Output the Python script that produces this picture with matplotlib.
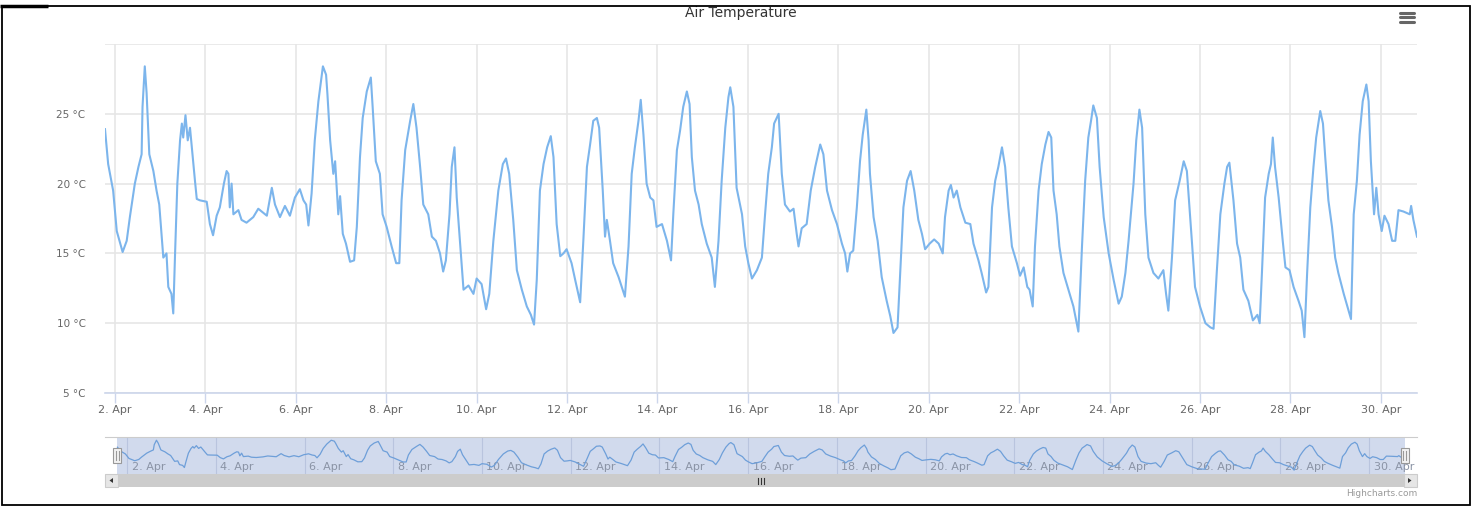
import matplotlib
matplotlib.use('Agg')
import matplotlib.pyplot as plt
from matplotlib.patches import Rectangle, Polygon

plt.rcParams['font.family'] = ['DejaVu Sans']

# Air temperature, April (day of month as decimal)
day = [1.78, 1.85, 1.96, 2.04, 2.17, 2.26, 2.33, 2.44, 2.52, 2.59,
       2.61, 2.66, 2.70, 2.76, 2.85, 2.92, 2.98, 3.03, 3.07, 3.14,
       3.18, 3.25, 3.29, 3.33, 3.38, 3.44, 3.48, 3.51, 3.56, 3.61,
       3.66, 3.70, 3.77, 3.81, 3.88, 4.03, 4.10, 4.17, 4.25, 4.32,
       4.41, 4.47, 4.51, 4.54, 4.58, 4.62, 4.73, 4.80, 4.91, 5.06,
       5.17, 5.36, 5.47, 5.54, 5.65, 5.76, 5.87, 5.98, 6.09, 6.17,
       6.23, 6.28, 6.35, 6.42, 6.50, 6.60, 6.67, 6.70, 6.76, 6.83,
       6.87, 6.94,
       6.98, 7.04, 7.11, 7.20, 7.29, 7.35, 7.42, 7.48, 7.57, 7.66,
       7.70, 7.77, 7.86, 7.92, 8.01, 8.12, 8.22, 8.29, 8.34, 8.42,
       8.53, 8.60, 8.67, 8.75, 8.82, 8.93, 9.01, 9.10, 9.19, 9.26,
       9.32, 9.40, 9.45, 9.51, 9.56, 9.63, 9.71, 9.82, 9.93, 10.00,
       10.11, 10.21, 10.28, 10.37, 10.48, 10.58, 10.65, 10.72, 10.81, 10.89,
       11.00, 11.11, 11.20, 11.27, 11.33, 11.40, 11.48, 11.56, 11.64, 11.70,
       11.77, 11.85, 11.92, 11.99, 12.10, 12.18, 12.29, 12.36, 12.44, 12.51,
       12.58, 12.66, 12.71, 12.79, 12.84, 12.88, 12.95, 13.02, 13.14, 13.21,
       13.28, 13.36, 13.43, 13.50, 13.58, 13.63, 13.69, 13.76, 13.84, 13.91,
       13.98, 14.10, 14.21, 14.30, 14.35, 14.43, 14.50, 14.57, 14.65, 14.71,
       14.76, 14.83, 14.91, 14.98, 15.09, 15.20, 15.27, 15.35, 15.42, 15.50,
       15.57, 15.61, 15.68, 15.75, 15.87, 15.94, 16.01, 16.09, 16.20, 16.31,
       16.38, 16.45, 16.53, 16.58, 16.68, 16.75, 16.82, 16.93, 17.01, 17.08,
       17.12, 17.19, 17.30, 17.39, 17.49, 17.60, 17.67, 17.75, 17.86, 17.97,
       18.08, 18.15, 18.20, 18.26, 18.33, 18.41, 18.48, 18.54, 18.62, 18.67,
       18.70, 18.78, 18.87, 18.96, 19.07, 19.15, 19.22, 19.31, 19.37, 19.44,
       19.52, 19.60, 19.68, 19.77, 19.85, 19.92, 20.02, 20.12, 20.22, 20.31,
       20.36, 20.44, 20.49, 20.55, 20.62, 20.70, 20.81, 20.92, 20.99, 21.10,
       21.17, 21.27, 21.32, 21.40, 21.47, 21.54, 21.62, 21.69, 21.76, 21.84,
       21.95, 22.02, 22.10, 22.18, 22.23, 22.30, 22.35, 22.43, 22.50, 22.58,
       22.65, 22.71, 22.76, 22.83, 22.89, 22.98, 23.09, 23.20, 23.31, 23.39,
       23.46, 23.53, 23.59, 23.64, 23.72, 23.78, 23.87, 23.98, 24.09, 24.20,
       24.27, 24.35, 24.42, 24.53, 24.59, 24.66, 24.72, 24.79, 24.86, 24.97,
       25.08, 25.19, 25.25, 25.30, 25.38, 25.45, 25.55, 25.64, 25.71, 25.82,
       25.89, 26.00, 26.12, 26.23, 26.30, 26.37, 26.45, 26.54, 26.60, 26.65,
       26.74, 26.82, 26.89, 26.96, 27.07, 27.17, 27.27, 27.32, 27.37, 27.44,
       27.52, 27.57, 27.61, 27.66, 27.74, 27.83, 27.89, 27.98, 28.07, 28.18,
       28.25, 28.31, 28.37, 28.44, 28.51, 28.57, 28.66, 28.72, 28.77, 28.84,
       28.92, 28.99, 29.06, 29.18, 29.26, 29.34, 29.40, 29.47, 29.53, 29.60,
       29.68, 29.73, 29.78, 29.85, 29.90, 29.95, 30.02, 30.08, 30.17, 30.25,
       30.32, 30.39, 30.50, 30.64, 30.67, 30.72, 30.80]

temp = [23.9, 21.4, 19.5, 16.6, 15.1, 15.9, 17.6, 20.0, 21.2, 22.1,
        25.5, 28.4, 26.5, 22.1, 20.9, 19.5, 18.5, 16.4, 14.7, 15.0,
        12.6, 12.1, 10.7, 15.0, 20.0, 23.1, 24.3, 23.3, 24.9, 23.1,
        24.0, 22.6, 20.2, 18.9, 18.8, 18.7, 17.1, 16.3, 17.7, 18.3,
        20.0, 20.9, 20.7, 18.3, 20.0, 17.8, 18.1, 17.4, 17.2, 17.6,
        18.2, 17.7, 19.7, 18.5, 17.6, 18.4, 17.7, 19.0, 19.6, 18.8,
        18.5, 17.0, 19.3, 23.1, 25.9, 28.4, 27.8, 26.4, 23.1, 20.7,
        21.6, 17.8,
        19.1, 16.4, 15.7, 14.4, 14.5, 16.9, 21.9, 24.7, 26.6, 27.6,
        25.5, 21.6, 20.7, 17.8, 16.9, 15.5, 14.3, 14.3, 18.8, 22.4,
        24.5, 25.7, 24.0, 21.2, 18.5, 17.8, 16.2, 15.9, 15.0, 13.7,
        14.5, 17.8, 21.2, 22.6, 19.0, 15.9, 12.4, 12.7, 12.1, 13.2,
        12.8, 11.0, 12.1, 15.9, 19.5, 21.4, 21.8, 20.7, 17.4, 13.8,
        12.4, 11.2, 10.6, 9.9, 13.1, 19.5, 21.4, 22.6, 23.4, 21.9,
        17.1, 14.8, 15.0, 15.3, 14.3, 13.1, 11.5, 15.9, 21.2, 22.8,
        24.5, 24.7, 24.0, 19.5, 16.2, 17.4, 15.9, 14.3, 13.3, 12.6,
        11.9, 15.5, 20.7, 22.6, 24.5, 26.0, 23.5, 20.0, 19.0, 18.8,
        16.9, 17.1, 15.9, 14.5, 17.8, 22.4, 23.8, 25.5, 26.6, 25.7,
        21.9, 19.5, 18.5, 17.1, 15.7, 14.7, 12.6, 15.9, 20.2, 24.0,
        26.2, 26.9, 25.5, 19.7, 17.8, 15.5, 14.3, 13.2, 13.8, 14.7,
        17.8, 20.7, 22.6, 24.3, 25.0, 20.7, 18.5, 18.0, 18.2, 16.4,
        15.5, 16.8, 17.1, 19.5, 21.2, 22.8, 22.1, 19.5, 18.1, 17.1,
        15.7, 15.0, 13.7, 15.0, 15.2, 18.3, 21.6, 23.5, 25.3, 23.1,
        20.7, 17.6, 15.9, 13.3, 11.6, 10.5, 9.3, 9.7, 13.6, 18.3,
        20.2, 20.9, 19.5, 17.4, 16.4, 15.3, 15.7, 16.0, 15.7, 15.0,
        17.6, 19.5, 19.9, 19.0, 19.5, 18.3, 17.2, 17.1, 15.7, 14.5,
        13.6, 12.2, 12.6, 18.3, 20.2, 21.2, 22.6, 21.2, 18.3, 15.5,
        14.3, 13.4, 14.0, 12.6, 12.4, 11.2, 15.5, 19.5, 21.4, 22.8,
        23.7, 23.3, 19.5, 17.8, 15.5, 13.6, 12.4, 11.2, 9.4, 15.5,
        20.2, 23.3, 24.5, 25.6, 24.7, 21.2, 17.6, 15.0, 13.1, 11.4,
        11.9, 13.6, 15.9, 20.0, 23.1, 25.3, 24.0, 17.8, 14.7, 13.6,
        13.2, 13.8, 12.1, 10.9, 14.7, 18.8, 20.2, 21.6, 20.9, 15.9,
        12.6, 11.2, 10.0, 9.7, 9.6, 13.6, 17.8, 20.0, 21.2, 21.5,
        18.8, 15.7, 14.7, 12.4, 11.6, 10.2, 10.6, 10.0, 13.6, 19.0,
        20.7, 21.4, 23.3, 21.2, 19.0, 15.9, 14.0, 13.8, 12.6, 11.6,
        10.9, 9.0, 13.6, 18.3, 21.2, 23.3, 25.2, 24.3, 21.9, 18.8,
        16.9, 14.7, 13.6, 12.1, 11.2, 10.3, 17.8, 20.2, 23.5, 25.9,
        27.1, 25.9, 21.6, 17.8, 19.7, 17.8, 16.6, 17.7, 17.1, 15.9,
        15.9, 18.1, 18.0, 17.8, 18.4, 17.4, 16.2]

date_ticks = [2, 4, 6, 8, 10, 12, 14, 16, 18, 20, 22, 24, 26, 28, 30]
date_labels = [f'{d}. Apr' for d in date_ticks]
temp_ticks = [5, 10, 15, 20, 25, 30]
temp_labels = ['5 °C', '10 °C', '15 °C', '20 °C', '25 °C', '']

W, H = 1473, 509
fig = plt.figure(figsize=(W / 100, H / 100), dpi=100)


def box(l, t, r, b):
    return [l / W, 1 - b / H, (r - l) / W, (b - t) / H]


# main chart
ax = fig.add_axes(box(105, 44, 1417, 393))
ax.plot(day, temp, color='#7cb5ec', lw=1.5, solid_joinstyle='round')
ax.set_xlim(day[0], day[-1])
ax.set_ylim(5, 30)
ax.set_xticks(date_ticks)
ax.set_xticklabels(date_labels)
ax.set_yticks(temp_ticks)
ax.set_yticklabels(temp_labels)
ax.grid(color='#e6e6e6', lw=1.2)
ax.set_axisbelow(True)
for s in ['top', 'left', 'right']:
    ax.spines[s].set_visible(False)
ax.spines['bottom'].set_color('#ccd6eb')
ax.spines['bottom'].set_linewidth(1.2)
ax.tick_params(axis='y', length=0, pad=14, labelsize=7.5, labelcolor='#666666')
ax.tick_params(axis='x', length=7, width=1, color='#ccd6eb', pad=1.5,
               labelsize=8, labelcolor='#666666')

# navigator
nav = fig.add_axes(box(105, 437, 1417, 474))
nav.set_xlim(1.50, 31.08)
nav.set_ylim(6.5, 30.5)
nav.axvspan(day[0], day[-1], color='#d1daed', lw=0, zorder=0)
for d, lab in zip(date_ticks, date_labels):
    nav.axvline(d, color='#b9c4de', lw=0.8, zorder=1)
    nav.text(d + 0.1, 0.1, lab, transform=nav.get_xaxis_transform(),
             fontsize=8, color='#8a93a5', va='baseline', ha='left', zorder=1)
nav.plot(day, temp, color='#6e9fd9', lw=0.9, zorder=2)
nav.set_xticks([])
nav.set_yticks([])
for s in ['bottom', 'left', 'right']:
    nav.spines[s].set_visible(False)
nav.spines['top'].set_color('#cccccc')

# overlay in pixel coords for chrome (scrollbar, handles, frame)
ov = fig.add_axes([0, 0, 1, 1], zorder=5)
ov.set_xlim(0, W)
ov.set_ylim(H, 0)
ov.axis('off')
ov.patch.set_alpha(0)

fig.canvas.draw()
hx0 = nav.transData.transform((day[0], 0))[0]
hx1 = nav.transData.transform((day[-1], 0))[0]

# scrollbar
ov.add_patch(Rectangle((105, 474), 1312, 13, fc='#f2f2f2', ec='none'))
ov.add_patch(Rectangle((hx0, 474), hx1 - hx0, 13, fc='#cccccc', ec='none'))
ov.add_patch(Rectangle((105, 474), 13, 13, fc='#e6e6e6', ec='#cccccc', lw=0.8))
ov.add_patch(Rectangle((1404, 474), 13, 13, fc='#e6e6e6', ec='#cccccc', lw=0.8))
ov.add_patch(Polygon([(113, 478), (113, 483), (109.5, 480.5)], fc='#333333', ec='none'))
ov.add_patch(Polygon([(1408, 478), (1408, 483), (1411.5, 480.5)], fc='#333333', ec='none'))
mid = (hx0 + hx1) / 2
for dx in (-3, 0, 3):
    ov.plot([mid + dx, mid + dx], [478, 484], color='#333333', lw=0.8)

# navigator handles
for hx in (hx0, hx1):
    ov.add_patch(Rectangle((hx - 4, 448), 8, 15, fc='#f2f2f2', ec='#999999', lw=0.8))
    for dx in (-1.5, 1.5):
        ov.plot([hx + dx, hx + dx], [451, 460], color='#999999', lw=0.8)

# frame
ov.add_patch(Rectangle((2, 6), 1468, 499, fc='none', ec='black', lw=1.3, clip_on=False))
ov.plot([0, 48], [6, 6], color='black', lw=2.5, solid_capstyle='butt')

# title, menu icon, credits
fig.text(741 / W, 1 - 13 / H, 'Air Temperature', ha='center', va='center',
         fontsize=10, color='#333333')
for y in (12.7, 17.3, 22.3):
    ov.plot([1400, 1414], [y, y], color='#666666', lw=2.2, solid_capstyle='round')
fig.text(1417 / W, 1 - 494 / H, 'Highcharts.com', ha='right', va='center',
         fontsize=6.5, color='#999999')

fig.savefig('out.png', dpi=100)
